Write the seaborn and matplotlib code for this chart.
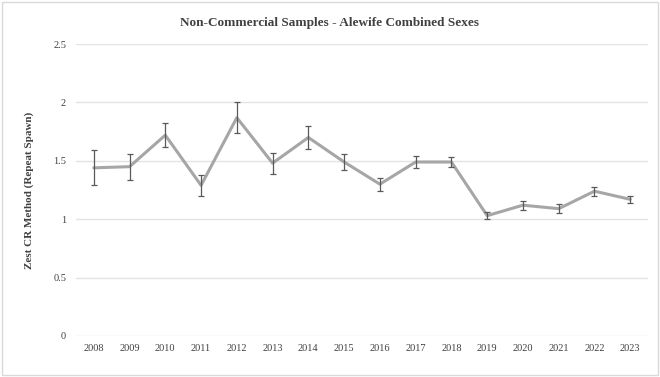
import pandas as pd
import matplotlib
matplotlib.use("Agg")
import matplotlib.pyplot as plt
import seaborn as sns
from matplotlib.patches import Rectangle

# values
years = ['2008', '2009', '2010', '2011', '2012', '2013', '2014', '2015',
         '2016', '2017', '2018', '2019', '2020', '2021', '2022', '2023']
zest = [1.44, 1.45, 1.72, 1.29, 1.87, 1.48, 1.70, 1.49,
        1.30, 1.49, 1.49, 1.03, 1.12, 1.09, 1.24, 1.17]
err = [0.15, 0.11, 0.10, 0.09, 0.13, 0.09, 0.10, 0.07,
       0.055, 0.05, 0.04, 0.03, 0.04, 0.04, 0.04, 0.03]
yticks = [0, 0.5, 1, 1.5, 2, 2.5]
ytick_labels = ['0', '0.5', '1', '1.5', '2', '2.5']

sns.set_style("white")
plt.rcParams['font.family'] = ['Liberation Serif', 'DejaVu Serif']

df = pd.DataFrame({'Year': years, 'Zest': zest, 'Err': err})

fig = plt.figure(figsize=(6.6, 3.77), dpi=100)
ax = fig.add_axes([0.115, 0.109, 0.867, 0.774])

sns.lineplot(data=df, x='Year', y='Zest', ax=ax, color='#a6a6a6',
             linewidth=2.2, sort=False, zorder=3)
ax.errorbar(range(len(years)), df['Zest'], yerr=df['Err'], fmt='none',
            ecolor='#595959', elinewidth=0.9, capsize=2.5, capthick=0.9, zorder=4)

ax.set_xlim(-0.5, len(years) - 0.5)
ax.set_ylim(0, 2.5)
ax.set_yticks(yticks)
ax.set_yticklabels(ytick_labels)
ax.yaxis.grid(True, color='#e3e3e3', linewidth=1)
ax.set_axisbelow(True)
for s in ax.spines.values():
    s.set_visible(False)
ax.tick_params(axis='both', length=0, labelsize=7.5, colors='#404040')
ax.tick_params(axis='y', pad=7)
ax.tick_params(axis='x', pad=6)

ax.set_xlabel('')
ax.set_ylabel('Zest CR Method (Repeat Spawn)', fontsize=8, fontweight='bold',
              color='#404040', labelpad=14)
fig.text(0.5, 0.94, 'Non-Commercial Samples - Alewife Combined Sexes',
         ha='center', va='center', fontsize=9.5, fontweight='bold', color='#404040')

fig.patches.append(Rectangle((0.003, 0.005), 0.994, 0.99, transform=fig.transFigure,
                             fill=False, edgecolor='#d9d9d9', linewidth=1))

fig.savefig('out.png', dpi=100)
